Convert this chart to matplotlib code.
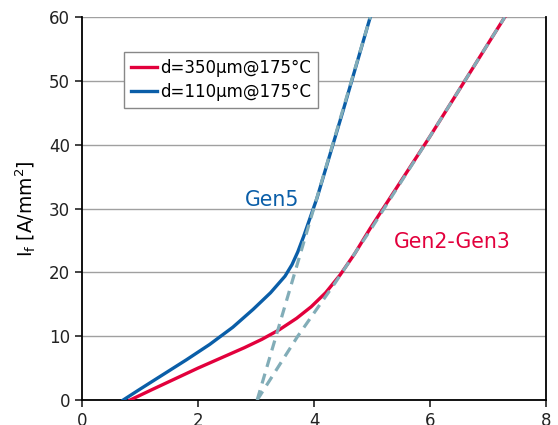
import matplotlib
matplotlib.use("Agg")
import matplotlib.pyplot as plt

plt.rcParams['font.family'] = ['DejaVu Sans']

# forward characteristics (V, A/mm2)
v_350 = [0.83, 1.2, 1.6, 2.0, 2.4, 2.8, 3.1, 3.4, 3.7, 3.95, 4.2, 4.45, 4.7, 4.97, 5.5, 6.0, 6.6, 7.29]
i_350 = [0.0, 1.6, 3.3, 5.0, 6.6, 8.2, 9.5, 11.0, 12.8, 14.6, 16.8, 19.6, 22.9, 26.9, 34.3, 41.3, 50.0, 60.0]

v_110 = [0.71, 1.0, 1.4, 1.8, 2.2, 2.6, 2.95, 3.25, 3.5, 3.62, 3.72, 3.82, 3.92, 4.05, 4.5, 4.97]
i_110 = [0.0, 1.7, 4.0, 6.3, 8.7, 11.4, 14.2, 16.8, 19.4, 21.2, 23.2, 25.6, 28.2, 31.6, 45.3, 60.0]

# linear extrapolations (dashed)
v_fit5 = [3.02, 4.97]
i_fit5 = [0.0, 60.0]
v_fit23 = [3.02, 3.72, 4.36, 4.97, 5.91, 7.29]
i_fit23 = [0.0, 10.0, 18.3, 26.6, 40.0, 60.0]

red = '#E2003C'
blue = '#0A5EA8'
dash_col = '#82ADB8'

fig = plt.figure(figsize=(5.58, 4.25), dpi=100)
ax = fig.add_axes([0.147, 0.0588, 0.8315, 0.9012])

ax.plot(v_350, i_350, color=red, lw=2.4, label='d=350µm@175°C', zorder=3,
        solid_joinstyle='round')
ax.plot(v_110, i_110, color=blue, lw=2.4, label='d=110µm@175°C', zorder=3,
        solid_joinstyle='round')
ax.plot(v_fit5, i_fit5, color=dash_col, lw=2.3, ls=(0, (3.2, 2.2)), zorder=4)
ax.plot(v_fit23, i_fit23, color=dash_col, lw=2.3, ls=(0, (3.2, 2.2)), zorder=4)

ax.set_xlim(0, 8)
ax.set_ylim(0, 60)
ax.set_xticks([0, 2, 4, 6, 8])
ax.set_yticks(range(0, 61, 10))
ax.yaxis.grid(True, color='#A0A0A0', lw=1)
ax.set_axisbelow(True)
ax.spines['top'].set_visible(False)
for s in ['left', 'bottom', 'right']:
    ax.spines[s].set_linewidth(1.3)
ax.tick_params(direction='out', length=5, width=1.2, labelsize=12, colors='#222222')

ax.set_ylabel('I$_\\mathregular{f}$ [A/mm$^\\mathregular{2}$]', fontsize=13.5, labelpad=8)

ax.text(3.28, 31.3, 'Gen5', color=blue, fontsize=14.8, ha='center', va='center')
ax.text(6.38, 24.7, 'Gen2-Gen3', color=red, fontsize=14.8, ha='center', va='center')

leg = ax.legend(loc='upper left', bbox_to_anchor=(0.0905, 0.909), fontsize=12,
                fancybox=False, framealpha=1, edgecolor='#888888',
                handlelength=1.55, handletextpad=0.2, borderpad=0.4,
                borderaxespad=0, labelspacing=0.4)
leg.get_frame().set_linewidth(1.0)

fig.savefig('out.png', dpi=100)
